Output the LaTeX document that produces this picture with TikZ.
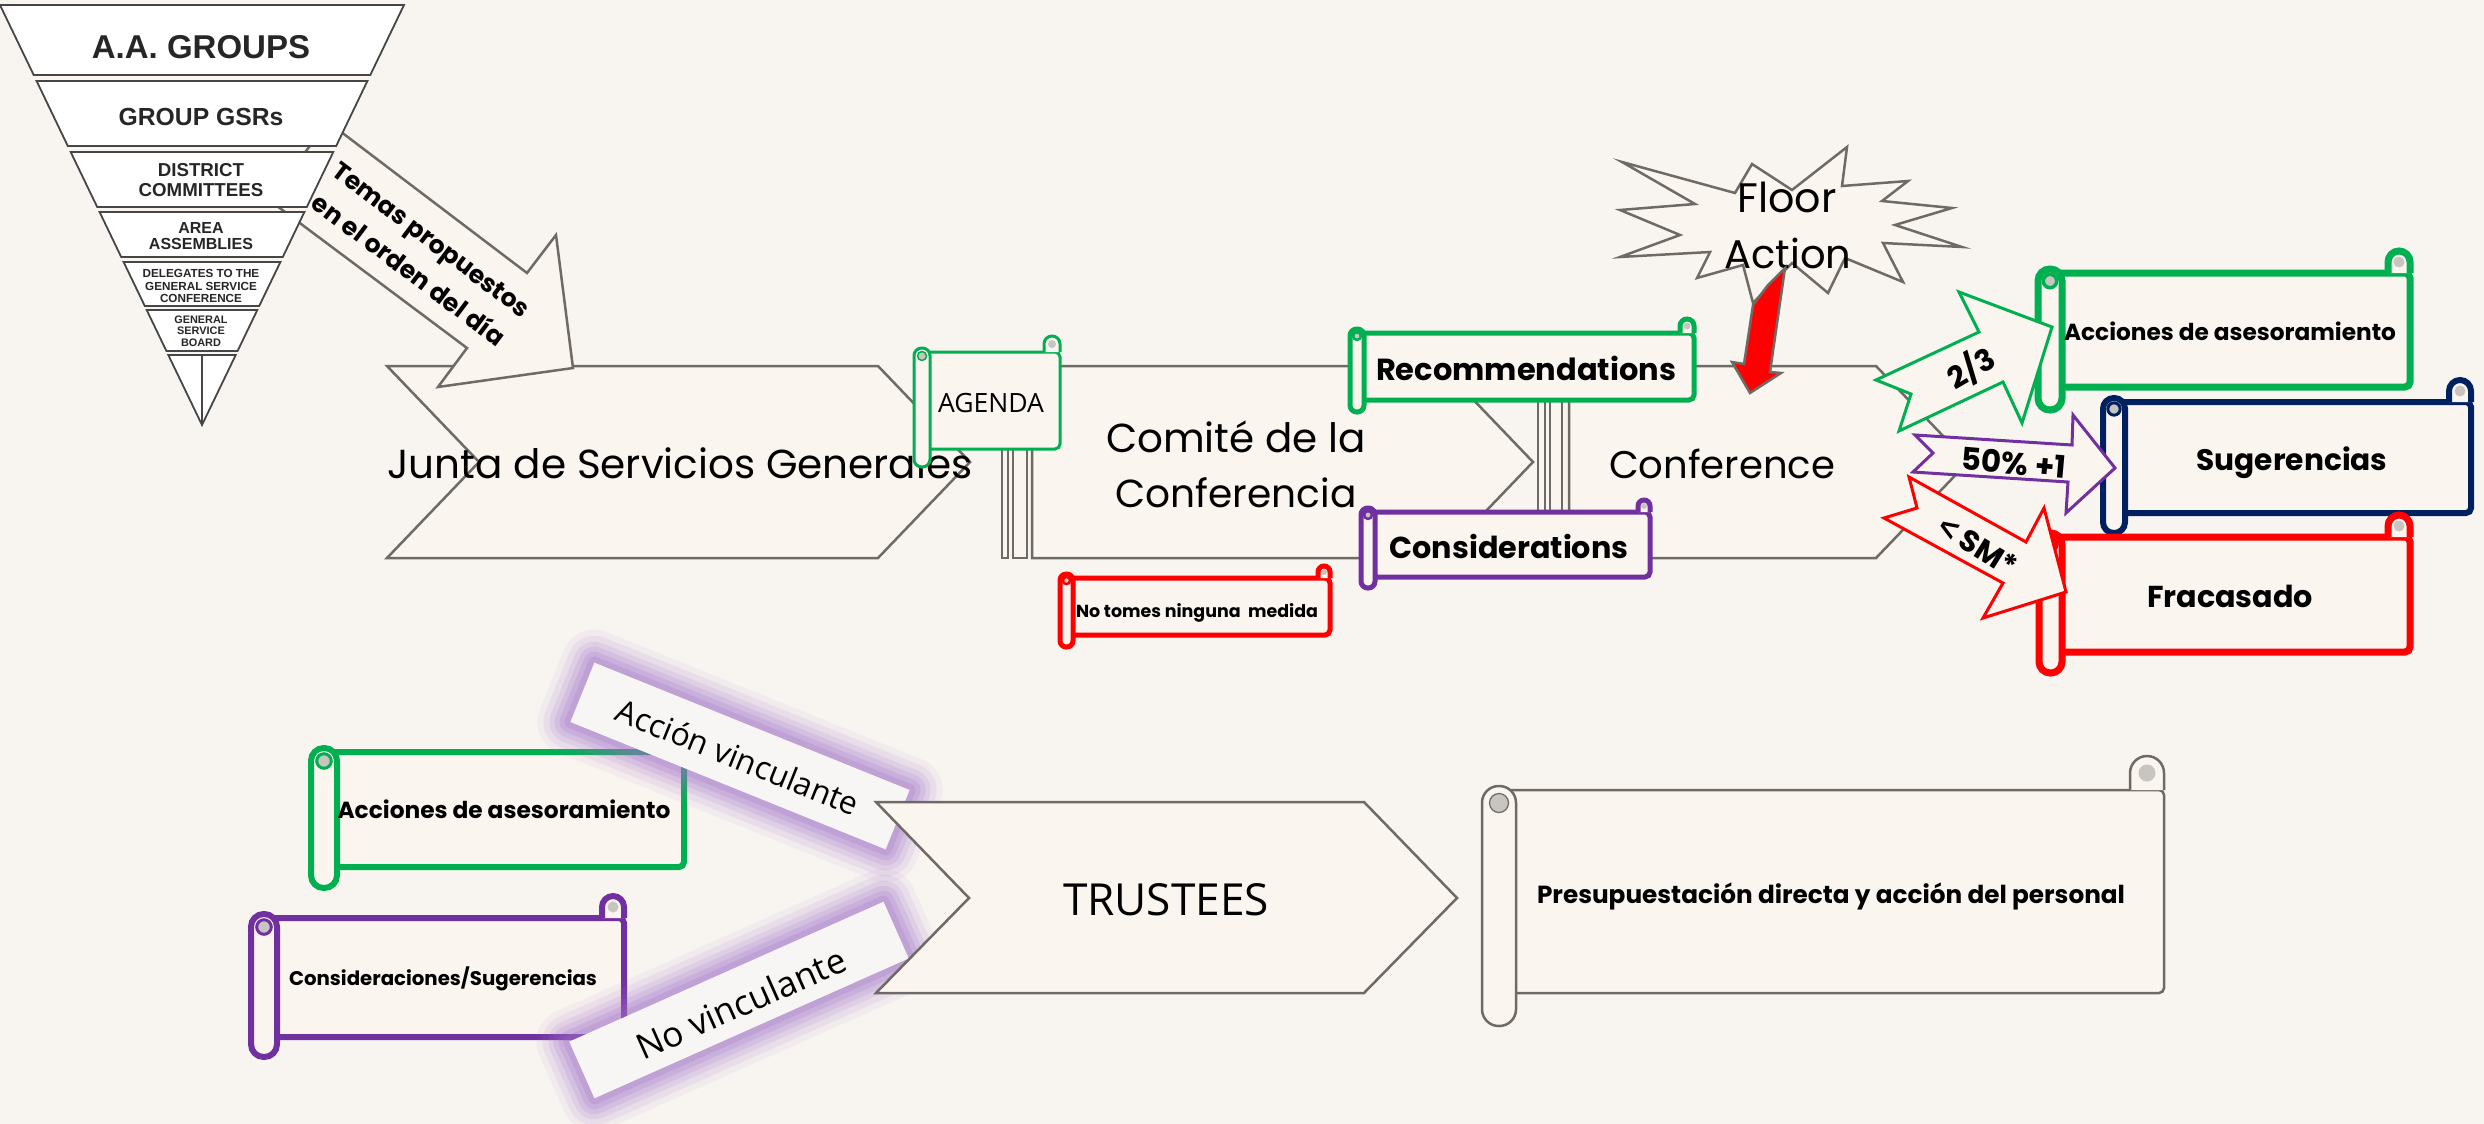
\documentclass[tikz,border=0pt]{standalone}
\usepackage{fontspec}
\newfontfamily\pop{Poppins}
\newfontfamily\osans{Open Sans}
\newfontfamily\arl{Liberation Sans}
\definecolor{bgc}{RGB}{248,245,241}
\definecolor{sfill}{RGB}{251,245,240}
\definecolor{edgec}{RGB}{110,106,102}
\definecolor{pyrc}{RGB}{70,70,70}
\definecolor{grn}{RGB}{0,176,80}
\definecolor{prp}{RGB}{112,48,160}
\definecolor{nvy}{RGB}{0,32,96}
\definecolor{rd}{RGB}{255,0,0}
\definecolor{curlc}{RGB}{200,196,192}
\definecolor{glowc}{RGB}{160,112,200}
\definecolor{banc}{RGB}{247,246,244}
\newlength\fitlen
\newcommand\fitto[3]{\settowidth\fitlen{#1\fontsize{10pt}{12pt}\selectfont #3}\pgfmathsetmacro\fitsz{10*#2/\fitlen}\pgfmathsetmacro\fitbs{1.2*\fitsz}#1\fontsize{\fitsz pt}{\fitbs pt}\selectfont #3}
% L T R B RB w color lw c
\newcommand\scrollshape[9]{%
 \pgfmathsetmacro\rollr{#6/2-0.3}%
 \draw[line width=#8, draw=#7, fill=sfill, rounded corners=5] ({#1+#6/2},#2) rectangle (#3,#4);
 \draw[line width=#8, draw=#7, fill=sfill, rounded corners=#9] ({#3-2*#9},#2) -- ({#3-2*#9},{#2-2*#9}) -- (#3,{#2-2*#9}) -- (#3,#2);
 \fill[curlc] ({#3-#9},{#2-#9}) circle[radius={0.5*#9}];
 \draw[line width=#8, draw=#7, fill=sfill, rounded corners=\rollr] (#1,{#2-4}) rectangle ({#1+#6},#5);
 \draw[line width={0.5*#8}, draw=#7, fill=curlc] ({#1+#6/2},{#2-4+#6/2}) circle[radius={0.28*#6}];
}
\newcommand\glowbanner[5]{%
 \begin{scope}[shift={(#1,#2)},rotate=#3]
 \foreach \gw/\go in {66/0.07,54/0.1,42/0.13,32/0.16,22/0.2,12/0.22}{\draw[glowc,line width=\gw,opacity=\go,line join=round] (-#4,-#5) rectangle (#4,#5);}
 \fill[banc] (-#4,-#5) rectangle (#4,#5);
 \end{scope}}
\tikzset{
 chev/.style={draw=edgec, line width=2.5, fill=sfill, line join=miter},
 pyr/.style={draw=pyrc, line width=1.8, fill=white},
 post/.style={draw=edgec, line width=1.6, fill=sfill},
 lbl/.style={inner sep=0pt, anchor=base, text=black},
 rlbl/.style={inner sep=0pt, anchor=center, text=black},
 pyt/.style={inner sep=0pt, anchor=center, align=center, text=black!85},
 varrow/.style={line width=3, fill=sfill, line join=miter},
}
\begin{document}
\begin{tikzpicture}[x=1pt,y=-1pt]
\fill[bgc] (0,0) rectangle (2484,1124);
\useasboundingbox (0,0) rectangle (2484,1124);

% main chevrons
\draw[chev] (387,366) -- (878,366) -- (970,462) -- (878,558) -- (387,558) -- (479,462) -- cycle;
\draw[chev] (1032,366) -- (1441,366) -- (1533,462) -- (1441,558) -- (1032,558) -- cycle;
\draw[chev] (1569,366) -- (1876,366) -- (1968,462) -- (1876,558) -- (1569,558) -- cycle;

% Temas arrow
\draw[chev] (328,122) -- (527,273) -- (556,235) -- (573,368) -- (438,387) -- (467,348) -- (269,200) -- cycle;

% pyramid
\draw[pyr] (0,5) -- (404,5) -- (370.3,75) -- (33.7,75) -- cycle;
\draw[pyr] (36.6,81) -- (367.4,81) -- (336.2,146) -- (67.8,146) -- cycle;
\draw[pyr] (70.7,152) -- (333.3,152) -- (306.8,207) -- (97.2,207) -- cycle;
\draw[pyr] (99.6,212) -- (304.4,212) -- (282.8,257) -- (121.2,257) -- cycle;
\draw[pyr] (123.6,262) -- (280.4,262) -- (259.2,306) -- (144.8,306) -- cycle;
\draw[pyr] (146.7,310) -- (257.3,310) -- (237.6,351) -- (166.4,351) -- cycle;
\draw[pyr] (168.3,355) -- (235.7,355) -- (202,425) -- cycle;
\draw[pyr] (202,355) -- (202,425);
\node[pyt, font={\arl\bfseries\fontsize{33}{36}\selectfont}] (aag) at (201,47) {A.A. GROUPS};
\node[pyt, font={\arl\bfseries\fontsize{24.7}{27}\selectfont}] (gsr) at (201,117) {GROUP GSRs};
\node[pyt, font={\arl\bfseries\fontsize{18.7}{20}\selectfont}] (dc) at (201,180) {DISTRICT\\COMMITTEES};
\node[pyt, font={\arl\bfseries\fontsize{16}{16.5}\selectfont}] (aa) at (201,236) {AREA\\ASSEMBLIES};
\node[pyt, font={\arl\bfseries\fontsize{11.7}{12.3}\selectfont}] (dgsc) at (201,286) {DELEGATES TO THE\\GENERAL SERVICE\\CONFERENCE};
\node[pyt, font={\arl\bfseries\fontsize{10.9}{11.6}\selectfont}] (gsb) at (201,331) {GENERAL\\SERVICE\\BOARD};

\node[rlbl, rotate=-37, align=center, font={\pop\bfseries\fontsize{25}{38}\selectfont}] (temas) at (420,255) {Temas propuestos\\en el orden del día};

% chevron texts
\node[lbl] (junta) at (680,478) {\fitto{\pop}{585}{Junta de Servicios Generales}};
\node[lbl] (comite1) at (1236,452) {\fitto{\pop}{260}{Comité de la}};
\node[lbl] (comite2) at (1236,507) {\fitto{\pop}{241}{Conferencia}};
\node[lbl] (conf) at (1722,478) {\fitto{\pop}{226}{Conference}};

% posts
\draw[post] (1002,449) rectangle (1008,558);
\draw[post] (1013,449) rectangle (1027,558);
\draw[post] (1538,400) rectangle (1545,512);
\draw[post] (1550,400) rectangle (1562,512);

% upper scrolls
\scrollshape{914}{352}{1060}{449}{467}{16}{grn}{3}{8}
\node[lbl] (agenda) at (991,412) {\fitto{\osans}{106}{AGENDA}};
\scrollshape{1350}{333}{1694}{400}{412}{14}{grn}{5}{7}
\node[lbl] (recom) at (1526,380) {\fitto{\pop\bfseries}{300}{Recommendations}};
\scrollshape{1361}{512}{1650}{577}{588}{14}{prp}{5}{6}
\node[lbl] (consid) at (1509,558) {\fitto{\pop\bfseries}{239}{Considerations}};
\scrollshape{1060}{578}{1330}{635}{647}{13}{rd}{5}{6}
\node[lbl] (notomes) at (1197,617) {\fitto{\pop\bfseries}{242}{No tomes ninguna\ \ medida}};

% floor action star
\draw[chev] (1622,162) -- (1735,193) -- (1752,164) -- (1792,190) -- (1847,147) -- (1842,186) -- (1908,181) -- (1882,201) -- (1952,208) -- (1895,225) -- (1962,247) -- (1883,243) -- (1903,282) -- (1845,258) -- (1828,293) -- (1792,263) -- (1753,303) -- (1743,265) -- (1697,278) -- (1710,252) -- (1620,257) -- (1680,235) -- (1620,210) -- (1695,204) -- cycle;
\node[lbl] (floor) at (1787,212) {\fitto{\pop}{99}{Floor}};
\node[lbl] (action) at (1788,268) {\fitto{\pop}{127}{Action}};
\draw[line width=2.5, draw=edgec, fill=rd, line join=miter] (1785,268) -- (1770,372) -- (1781,373) -- (1750,393) -- (1732,362) -- (1744,364) -- (1753,305) -- (1768,285) -- cycle;

% right scrolls
\scrollshape{2038}{273}{2410}{387}{410}{24}{grn}{7}{11}
\node[lbl] (accR) at (2230,340) {\fitto{\pop\bfseries}{332}{Acciones de asesoramiento}};
\scrollshape{2103}{402}{2471}{513}{533}{22}{nvy}{6}{11}
\node[lbl] (suger) at (2292,470) {\fitto{\pop\bfseries}{191}{Sugerencias}};
\scrollshape{2039}{537}{2410}{652}{673}{23}{rd}{7}{11}
\node[lbl] (fracas) at (2230,607) {\fitto{\pop\bfseries}{166}{Fracasado}};

% vote arrows
\draw[varrow, draw=grn] (1876,380) -- (1979,332) -- (1959,292) -- (2052,327) -- (2022,423) -- (2003,382) -- (1899,431) -- (1911,394) -- cycle;
\node[rlbl, rotate=30, font={\pop\bfseries\fontsize{30}{34}\selectfont}] (twothirds) at (1971,368) {2/3};
\draw[varrow, draw=prp] (1915,435) -- (2072,445) -- (2073,415) -- (2115,468) -- (2066,513) -- (2068,482) -- (1913,472) -- (1933,453) -- cycle;
\node[rlbl, rotate=-5] (fifty) at (2014,463) {\fitto{\pop\bfseries}{105}{50\% +1}};
\draw[varrow, draw=rd] (1909,477) -- (2026,542) -- (2044,508) -- (2066,592) -- (1983,618) -- (2003,583) -- (1884,518) -- (1917,508) -- cycle;
\node[rlbl, rotate=-32, font={\pop\bfseries\fontsize{30}{34}\selectfont}] (sm) at (1978,546) {{\arl\bfseries\fontsize{32}{34}\selectfont <}\ SM*};

% bottom scrolls
\scrollshape{311}{752}{684}{867}{888}{26}{grn}{6}{11}
\node[lbl] (accB) at (504,818) {\fitto{\pop\bfseries}{333}{Acciones de asesoramiento}};
\scrollshape{251}{918}{624}{1037}{1057}{26}{prp}{6}{11}
\node[lbl] (consug) at (443,985) {\fitto{\pop\bfseries}{308}{Consideraciones/Sugerencias}};

% banners
\glowbanner{740}{756}{-22}{170}{32}
\node[rlbl, rotate=-22] (accion) at (738,757) {\fitto{\osans}{258}{Acción vinculante}};
\glowbanner{739}{1000}{24}{172}{31}
\node[rlbl, rotate=24] (novinc) at (741,1003) {\fitto{\osans}{225}{No vinculante}};

% trustees
\draw[chev] (876,802) -- (1364,802) -- (1457,898) -- (1364,993) -- (876,993) -- (969,898) -- cycle;
\node[lbl] (trust) at (1166,915) {\fitto{\osans}{206}{TRUSTEES}};

% presupuestacion scroll
\scrollshape{1482}{790}{2164}{993}{1026}{34}{edgec}{2.5}{17}
\node[lbl] (presu) at (1831,903) {\fitto{\pop\bfseries}{588}{Presupuestación directa y acción del personal}};
\end{tikzpicture}
\end{document}
